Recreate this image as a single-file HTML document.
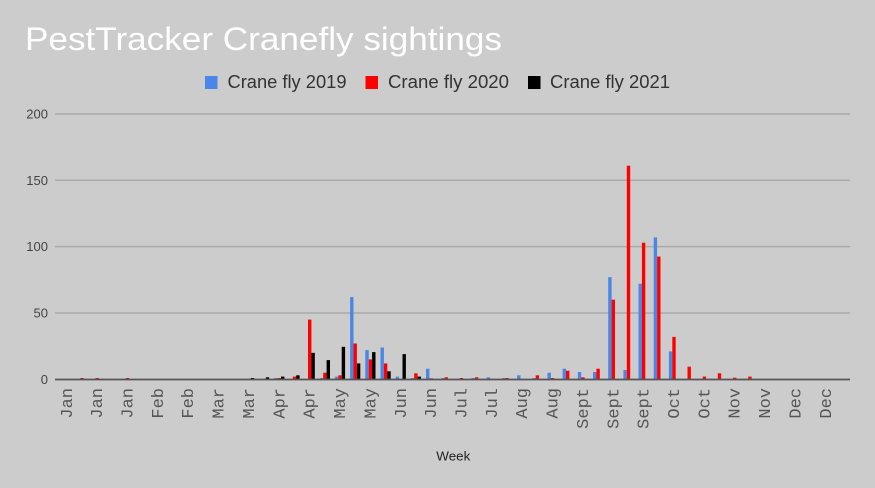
<!DOCTYPE html>
<html>
<head>
<meta charset="utf-8">
<style>
html,body{margin:0;padding:0;background:#cccccc;}
svg{display:block;}
</style>
</head>
<body>
<svg width="875" height="488" viewBox="0 0 875 488" xmlns="http://www.w3.org/2000/svg">
<rect x="0" y="0" width="875" height="488" fill="#cccccc"/>
<!-- Title -->
<text x="25" y="50" font-family="'Liberation Sans', sans-serif" font-size="32" fill="#ffffff" textLength="477" lengthAdjust="spacingAndGlyphs">PestTracker Cranefly sightings</text>
<!-- Legend -->
<rect x="205" y="76" width="12.5" height="13" fill="#4a86e8"/>
<text x="227.5" y="88" font-family="'Liberation Sans', sans-serif" font-size="18" fill="#333" textLength="119" lengthAdjust="spacingAndGlyphs">Crane fly 2019</text>
<rect x="365.5" y="76" width="12.5" height="13" fill="#ff0000"/>
<text x="388" y="88" font-family="'Liberation Sans', sans-serif" font-size="18" fill="#333" textLength="121" lengthAdjust="spacingAndGlyphs">Crane fly 2020</text>
<rect x="528" y="76" width="12.5" height="13" fill="#000000"/>
<text x="550" y="88" font-family="'Liberation Sans', sans-serif" font-size="18" fill="#333" textLength="120" lengthAdjust="spacingAndGlyphs">Crane fly 2021</text>
<!-- Gridlines -->
<g stroke="#aaaaaa" stroke-width="1.5">
<line x1="55" y1="114" x2="850" y2="114"/>
<line x1="55" y1="180.3" x2="850" y2="180.3"/>
<line x1="55" y1="246.6" x2="850" y2="246.6"/>
<line x1="55" y1="313" x2="850" y2="313"/>
</g>
<!-- Y labels -->
<g font-family="'Liberation Sans', sans-serif" font-size="13" fill="#444" text-anchor="end">
<text x="48" y="118.5">200</text>
<text x="48" y="184.8">150</text>
<text x="48" y="251.1">100</text>
<text x="48" y="317.5">50</text>
<text x="48" y="383.8">0</text>
</g>
<!-- Blue bars 2019 -->
<g fill="#4a86e8">
<rect x="274.2" y="378" width="3.4" height="1.3"/>
<rect x="319.8" y="378" width="3.4" height="1.3"/>
<rect x="334.9" y="376.6" width="3.4" height="2.7"/>
<rect x="350.1" y="297.1" width="3.4" height="82.2"/>
<rect x="365.3" y="350.1" width="3.4" height="29.2"/>
<rect x="380.5" y="347.5" width="3.4" height="31.8"/>
<rect x="395.7" y="376.6" width="3.4" height="2.7"/>
<rect x="410.8" y="378" width="3.4" height="1.3"/>
<rect x="426.0" y="368.7" width="3.4" height="10.6"/>
<rect x="441.2" y="378" width="3.4" height="1.3"/>
<rect x="471.6" y="378" width="3.4" height="1.3"/>
<rect x="486.7" y="377.3" width="3.4" height="2"/>
<rect x="501.9" y="378" width="3.4" height="1.3"/>
<rect x="517.1" y="375.3" width="3.4" height="4"/>
<rect x="532.3" y="378" width="3.4" height="1.3"/>
<rect x="547.5" y="372.7" width="3.4" height="6.6"/>
<rect x="562.6" y="368.7" width="3.4" height="10.6"/>
<rect x="577.8" y="372" width="3.4" height="7.3"/>
<rect x="593.0" y="372" width="3.4" height="7.3"/>
<rect x="608.2" y="277.2" width="3.4" height="102.1"/>
<rect x="623.4" y="370" width="3.4" height="9.3"/>
<rect x="638.5" y="283.8" width="3.4" height="95.5"/>
<rect x="653.7" y="237.4" width="3.4" height="141.9"/>
<rect x="668.9" y="351.4" width="3.4" height="27.9"/>
</g>
<!-- Red bars 2020 -->
<g fill="#ff0000">
<rect x="80.3" y="378" width="3.4" height="1.3"/>
<rect x="95.5" y="378" width="3.4" height="1.3"/>
<rect x="125.8" y="378" width="3.4" height="1.3"/>
<rect x="277.6" y="378" width="3.4" height="1.3"/>
<rect x="292.8" y="376.6" width="3.4" height="2.7"/>
<rect x="308.0" y="319.6" width="3.4" height="59.7"/>
<rect x="323.2" y="372.7" width="3.4" height="6.6"/>
<rect x="338.3" y="375.3" width="3.4" height="4"/>
<rect x="353.5" y="343.5" width="3.4" height="35.8"/>
<rect x="368.7" y="359.4" width="3.4" height="19.9"/>
<rect x="383.9" y="363.4" width="3.4" height="15.9"/>
<rect x="414.2" y="373.3" width="3.4" height="6"/>
<rect x="429.4" y="378.3" width="3.4" height="1"/>
<rect x="444.6" y="377.3" width="3.4" height="2"/>
<rect x="459.8" y="378" width="3.4" height="1.3"/>
<rect x="475.0" y="377.3" width="3.4" height="2"/>
<rect x="505.3" y="378" width="3.4" height="1.3"/>
<rect x="535.7" y="375.3" width="3.4" height="4"/>
<rect x="550.9" y="378" width="3.4" height="1.3"/>
<rect x="566.0" y="370.7" width="3.4" height="8.6"/>
<rect x="581.2" y="377.3" width="3.4" height="2"/>
<rect x="596.4" y="368.7" width="3.4" height="10.6"/>
<rect x="611.6" y="299.7" width="3.4" height="79.6"/>
<rect x="626.8" y="165.7" width="3.4" height="213.6"/>
<rect x="641.9" y="242.7" width="3.4" height="136.6"/>
<rect x="657.1" y="256.6" width="3.4" height="122.7"/>
<rect x="672.3" y="336.9" width="3.4" height="42.4"/>
<rect x="687.5" y="366.7" width="3.4" height="12.6"/>
<rect x="702.7" y="376.6" width="3.4" height="2.7"/>
<rect x="717.8" y="373.3" width="3.4" height="6"/>
<rect x="733.0" y="377.7" width="3.4" height="1.6"/>
<rect x="748.2" y="376.6" width="3.4" height="2.7"/>
</g>
<!-- Black bars 2021 -->
<g fill="#000000">
<rect x="250.7" y="378" width="3.4" height="1.3"/>
<rect x="265.8" y="377.3" width="3.4" height="2"/>
<rect x="281.0" y="376.6" width="3.4" height="2.7"/>
<rect x="296.2" y="375.3" width="3.4" height="4"/>
<rect x="311.4" y="352.8" width="3.4" height="26.5"/>
<rect x="326.6" y="360.1" width="3.4" height="19.2"/>
<rect x="341.7" y="346.8" width="3.4" height="32.5"/>
<rect x="356.9" y="363.4" width="3.4" height="15.9"/>
<rect x="372.1" y="352.1" width="3.4" height="27.2"/>
<rect x="387.3" y="371.3" width="3.4" height="8"/>
<rect x="402.5" y="354.1" width="3.4" height="25.2"/>
<rect x="417.6" y="376.6" width="3.4" height="2.7"/>
</g>
<!-- Baseline -->
<line x1="55" y1="379.5" x2="850" y2="379.5" stroke="#555555" stroke-width="1.8"/>
<!-- X labels -->
<g font-family="'Liberation Mono', monospace" font-size="17" fill="#555" text-anchor="end">
<text x="71.8" y="388" transform="rotate(-90 71.8 388)">Jan</text>
<text x="102.2" y="388" transform="rotate(-90 102.2 388)">Jan</text>
<text x="132.5" y="388" transform="rotate(-90 132.5 388)">Jan</text>
<text x="162.9" y="388" transform="rotate(-90 162.9 388)">Feb</text>
<text x="193.2" y="388" transform="rotate(-90 193.2 388)">Feb</text>
<text x="223.6" y="388" transform="rotate(-90 223.6 388)">Mar</text>
<text x="254.0" y="388" transform="rotate(-90 254.0 388)">Mar</text>
<text x="284.3" y="388" transform="rotate(-90 284.3 388)">Apr</text>
<text x="314.7" y="388" transform="rotate(-90 314.7 388)">Apr</text>
<text x="345.0" y="388" transform="rotate(-90 345.0 388)">May</text>
<text x="375.4" y="388" transform="rotate(-90 375.4 388)">May</text>
<text x="405.8" y="388" transform="rotate(-90 405.8 388)">Jun</text>
<text x="436.1" y="388" transform="rotate(-90 436.1 388)">Jun</text>
<text x="466.5" y="388" transform="rotate(-90 466.5 388)">Jul</text>
<text x="496.8" y="388" transform="rotate(-90 496.8 388)">Jul</text>
<text x="527.2" y="388" transform="rotate(-90 527.2 388)">Aug</text>
<text x="557.6" y="388" transform="rotate(-90 557.6 388)">Aug</text>
<text x="587.9" y="388" transform="rotate(-90 587.9 388)">Sept</text>
<text x="618.3" y="388" transform="rotate(-90 618.3 388)">Sept</text>
<text x="648.6" y="388" transform="rotate(-90 648.6 388)">Sept</text>
<text x="679.0" y="388" transform="rotate(-90 679.0 388)">Oct</text>
<text x="709.4" y="388" transform="rotate(-90 709.4 388)">Oct</text>
<text x="739.7" y="388" transform="rotate(-90 739.7 388)">Nov</text>
<text x="770.1" y="388" transform="rotate(-90 770.1 388)">Nov</text>
<text x="800.4" y="388" transform="rotate(-90 800.4 388)">Dec</text>
<text x="830.8" y="388" transform="rotate(-90 830.8 388)">Dec</text>
</g>
<!-- X axis title -->
<text x="453.3" y="460.7" font-family="'Liberation Sans', sans-serif" font-size="13" fill="#222" text-anchor="middle" textLength="34" lengthAdjust="spacingAndGlyphs">Week</text>
</svg>
</body>
</html>
